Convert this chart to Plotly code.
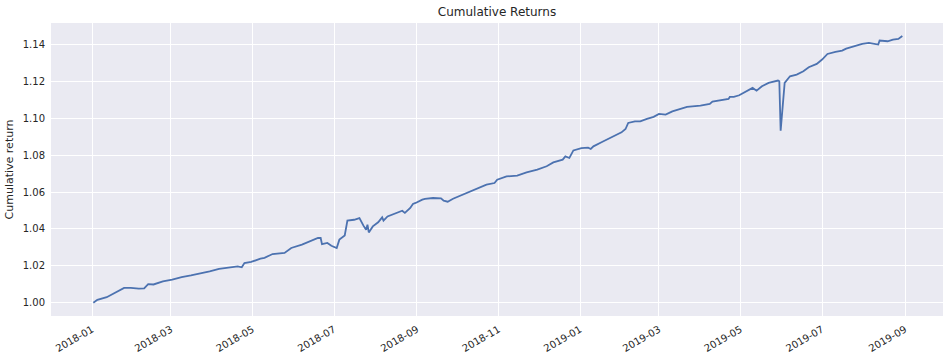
import plotly.graph_objects as go

dates = [
    "2018-01-02", "2018-01-05", "2018-01-12", "2018-01-19", "2018-01-25", "2018-01-30",
    "2018-02-05", "2018-02-09", "2018-02-12", "2018-02-16", "2018-02-23", "2018-03-02",
    "2018-03-09", "2018-03-16", "2018-03-23", "2018-03-30", "2018-04-06", "2018-04-13",
    "2018-04-20", "2018-04-23", "2018-04-25", "2018-04-30", "2018-05-03", "2018-05-07",
    "2018-05-10", "2018-05-16", "2018-05-25", "2018-05-30", "2018-06-07", "2018-06-14",
    "2018-06-19", "2018-06-21", "2018-06-22", "2018-06-26", "2018-06-29", "2018-07-03",
    "2018-07-05", "2018-07-09", "2018-07-11", "2018-07-16", "2018-07-20", "2018-07-23",
    "2018-07-25", "2018-07-26", "2018-07-27", "2018-07-30", "2018-08-03", "2018-08-06",
    "2018-08-07", "2018-08-10", "2018-08-16", "2018-08-21", "2018-08-23", "2018-08-27",
    "2018-08-29", "2018-08-31", "2018-09-05", "2018-09-07", "2018-09-13", "2018-09-19",
    "2018-09-21", "2018-09-24", "2018-09-28", "2018-10-09", "2018-10-16", "2018-10-23",
    "2018-10-29", "2018-10-31", "2018-11-07", "2018-11-15", "2018-11-22", "2018-11-30",
    "2018-12-07", "2018-12-12", "2018-12-19", "2018-12-21", "2018-12-24", "2018-12-27",
    "2019-01-02", "2019-01-07", "2019-01-09", "2019-01-11", "2019-01-17", "2019-01-25",
    "2019-02-01", "2019-02-04", "2019-02-06", "2019-02-11", "2019-02-15", "2019-02-20",
    "2019-02-25", "2019-03-01", "2019-03-06", "2019-03-11", "2019-03-15", "2019-03-22",
    "2019-04-01", "2019-04-08", "2019-04-10", "2019-04-17", "2019-04-22", "2019-04-23",
    "2019-04-26", "2019-04-30", "2019-05-03", "2019-05-06", "2019-05-10", "2019-05-13",
    "2019-05-17", "2019-05-22", "2019-05-24", "2019-05-29", "2019-05-30", "2019-05-31",
    "2019-06-03", "2019-06-04", "2019-06-07", "2019-06-12", "2019-06-17", "2019-06-21",
    "2019-06-27", "2019-07-01", "2019-07-05", "2019-07-11", "2019-07-16", "2019-07-19",
    "2019-07-26", "2019-07-31", "2019-08-05", "2019-08-09", "2019-08-12", "2019-08-13",
    "2019-08-19", "2019-08-23", "2019-08-27", "2019-08-30",
]

cum_return = [
    1.0000, 1.0016, 1.0030, 1.0058, 1.0080, 1.0081,
    1.0076, 1.0078, 1.0101, 1.0099, 1.0116, 1.0125,
    1.0139, 1.0148, 1.0157, 1.0170, 1.0183, 1.0188,
    1.0197, 1.0192, 1.0215, 1.0221, 1.0230, 1.0239,
    1.0243, 1.0264, 1.0270, 1.0297, 1.0315, 1.0336,
    1.0351, 1.0351, 1.0318, 1.0324, 1.0309, 1.0297,
    1.0342, 1.0365, 1.0445, 1.0450, 1.0459, 1.0418,
    1.0396, 1.0423, 1.0381, 1.0414, 1.0436, 1.0463,
    1.0445, 1.0468, 1.0487, 1.0499, 1.0487, 1.0514,
    1.0536, 1.0541, 1.0559, 1.0563, 1.0568, 1.0566,
    1.0553, 1.0548, 1.0564, 1.0598, 1.0622, 1.0640,
    1.0649, 1.0667, 1.0685, 1.0689, 1.0707, 1.0722,
    1.0740, 1.0761, 1.0776, 1.0794, 1.0785, 1.0826,
    1.0839, 1.0841, 1.0834, 1.0848, 1.0870, 1.0897,
    1.0924, 1.0942, 1.0975, 1.0984, 1.0984, 1.0997,
    1.1008, 1.1024, 1.1020, 1.1038, 1.1047, 1.1062,
    1.1069, 1.1078, 1.1091, 1.1098, 1.1105, 1.1116,
    1.1116, 1.1125, 1.1138, 1.1152, 1.1165, 1.1150,
    1.1174, 1.1192, 1.1195, 1.1205, 1.1201, 1.0933,
    1.1192, 1.1201, 1.1228, 1.1237, 1.1255, 1.1277,
    1.1295, 1.1319, 1.1349, 1.1360, 1.1367, 1.1378,
    1.1391, 1.1404, 1.1409, 1.1405, 1.1400, 1.1422,
    1.1418, 1.1427, 1.1431, 1.1447,
]

x_tickvals = [
    "2018-01-01", "2018-03-01", "2018-05-01", "2018-07-01", "2018-09-01", "2018-11-01",
    "2019-01-01", "2019-03-01", "2019-05-01", "2019-07-01", "2019-09-01",
]
x_ticktext = [
    "2018-01", "2018-03", "2018-05", "2018-07", "2018-09", "2018-11",
    "2019-01", "2019-03", "2019-05", "2019-07", "2019-09",
]
y_tickvals = [1.00, 1.02, 1.04, 1.06, 1.08, 1.10, 1.12, 1.14]
y_ticktext = ["1.00", "1.02", "1.04", "1.06", "1.08", "1.10", "1.12", "1.14"]

fig = go.Figure()
fig.add_trace(go.Scatter(
    x=dates, y=cum_return, mode="lines",
    line=dict(color="#4C72B0", width=1.8),
    showlegend=False,
))

font_family = "DejaVu Sans"
fig.update_layout(
    width=950, height=360,
    margin=dict(l=51, r=7, t=23, b=44),
    paper_bgcolor="white",
    plot_bgcolor="#EAEAF2",
    font=dict(family=font_family, size=10, color="#262626"),
    title=dict(
        text="Cumulative Returns", x=0.5, xref="paper",
        y=1 - 12 / 360, yref="container", yanchor="middle", xanchor="center",
        font=dict(family=font_family, size=12, color="#262626"),
    ),
)
fig.update_xaxes(
    range=["2017-12-01 08:00", "2019-09-29 10:00"],
    tickvals=x_tickvals, ticktext=x_ticktext, tickangle=-30,
    showgrid=True, gridcolor="white", gridwidth=1,
    zeroline=False, showline=False,
    ticks="outside", ticklen=3, tickcolor="rgba(0,0,0,0)",
    tickfont=dict(size=10, color="#262626"),
)
fig.update_yaxes(
    range=[0.9928, 1.1517],
    tickvals=y_tickvals, ticktext=y_ticktext,
    showgrid=True, gridcolor="white", gridwidth=1,
    zeroline=False, showline=False,
    ticks="outside", ticklen=3, tickcolor="rgba(0,0,0,0)",
    tickfont=dict(size=10, color="#262626"),
    title=dict(text="Cumulative return", standoff=6,
               font=dict(size=11, color="#262626")),
)

fig.write_html(
    "out.html",
    config={"displayModeBar": False},
    post_script="document.body.style.margin='0px';document.body.style.overflow='hidden';",
)
